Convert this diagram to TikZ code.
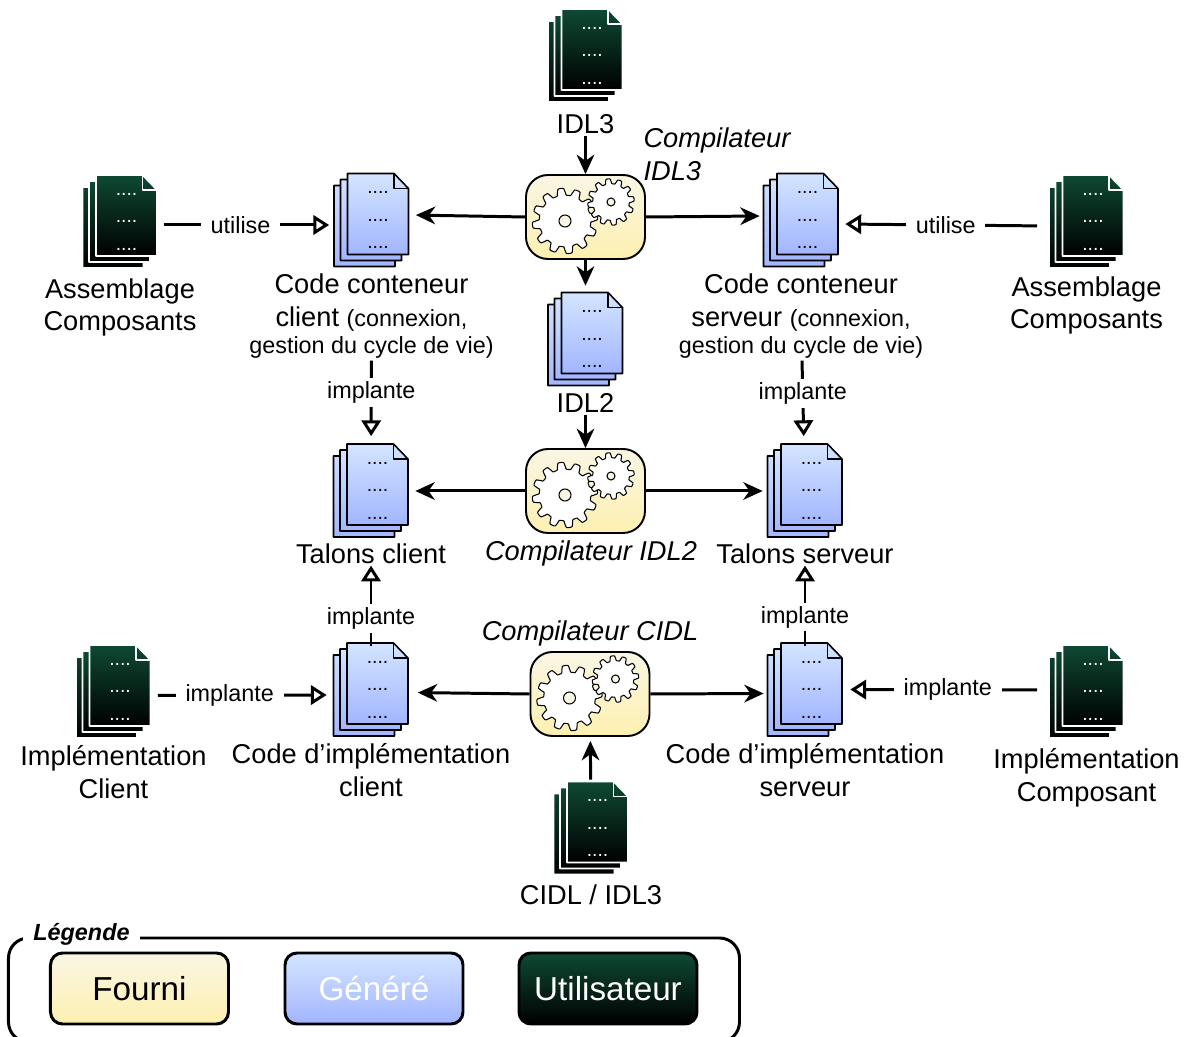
\documentclass[tikz,border=0pt]{standalone}
\usepackage{fontspec}
\setmainfont{Liberation Sans}
\usetikzlibrary{positioning}
\usetikzlibrary{arrows.meta}

\definecolor{fourniTop}{HTML}{FAF6E4}
\definecolor{fourniBot}{HTML}{FDF0B0}
\definecolor{generTop}{HTML}{D3E5FF}
\definecolor{generBot}{HTML}{A2B5FF}
\definecolor{userTop}{HTML}{0E4A33}
\definecolor{userBot}{HTML}{000000}

\newcommand{\docsheet}[5]{\shadedraw[top color=#3,bottom color=#4,draw=#5,line width=0.9pt,line join=round] (#1,#2) -- ++(0.93,0) -- ++(0.29,-0.3) -- ++(0,-1.32) -- ++(-1.22,0) -- cycle;}
\newcommand{\gearwheel}[5]{\draw[sharp corners,fill=white,line width=0.6pt,line join=round] plot[domain=0:360,samples=169,variable=\t] ({#1+(#3+#4*max(-1,min(1,2*sin(12*\t))))*cos(\t)},{#2+(#3+#4*max(-1,min(1,2*sin(12*\t))))*sin(\t)}) -- cycle;
	\draw[fill=fourniTop,line width=0.6pt] (#1,#2) circle (#5);}

\begin{document}
\begin{tikzpicture}
	[on grid,
	sheetstack/.style n args={4}{minimum width=1.56cm,minimum height=1.94cm,inner sep=0pt,
		path picture={
			\docsheet{-0.75}{0.70}{#1}{#2}{#3}
			\docsheet{-0.62}{0.82}{#1}{#2}{#3}
			\docsheet{-0.48}{0.94}{#1}{#2}{#3}
			\draw[#3,line width=0.9pt,line join=round] (0.45,0.94) -- (0.45,0.64) -- (0.74,0.64);
			\foreach \doty in {0.53,-0.02,-0.57}
				\node[text=#4,anchor=base,minimum width=0pt,minimum height=0pt,inner sep=0pt,path picture={},font=\fontsize{11}{11}\selectfont] at (0.13,\doty) {....};
			}},
	gendocs/.style={sheetstack={generTop}{generBot}{black}{black}},
	userdocs/.style={sheetstack={userTop}{userBot}{white}{white}},
	compilerbox/.style={draw,line width=1.1pt,rounded corners=0.44cm,top color=fourniTop,bottom color=fourniBot,minimum width=2.38cm,minimum height=1.68cm,inner sep=0pt,
		path picture={
			\gearwheel{-0.41}{-0.08}{0.585}{0.07}{0.12}
			\gearwheel{0.51}{0.30}{0.415}{0.05}{0.08}
			}},
	doclabel/.style={align=center,inner sep=1pt,font=\fontsize{15.5}{18.7}\selectfont},
	toollabel/.style={align=left,inner sep=1pt,font=\fontsize{15.5}{18.7}\selectfont\itshape},
	linklabel/.style={fill=white,inner xsep=5.5pt,inner ysep=2pt,font=\fontsize{13.3}{16}\selectfont},
	flowarrow/.style={line width=1.7pt,-{Stealth[length=11pt,width=10pt,inset=3.5pt]}},
	linkarrow/.style={line width=1.7pt,-{Triangle[open,length=9pt,width=11pt]}},
	keybox/.style={draw,line width=1.7pt,rounded corners=0.24cm,minimum width=3.56cm,minimum height=1.42cm,font=\fontsize{18.9}{22}\selectfont}
	]

	\useasboundingbox (-11.71,4.34) rectangle (12.07,-16.40);

	%Compilers and IDL files
	\node(CompA)[compilerbox]{};
	\node(IdlThree)[userdocs, above = 3.22cm of CompA]{};
	\node(IdlTwo)[gendocs, below = 2.45cm of CompA]{};
	\node(CompB)[compilerbox, below = 3.03cm of IdlTwo]{};
	\node(CompC)[compilerbox, below right = 4.06cm and 0.09cm of CompB]{};
	\node(CidlFile)[userdocs, below right = 2.69cm and 0.02cm of CompC]{};

	%Generated code
	\node(ContClient)[gendocs, below left = 0.07cm and 4.28cm of CompA]{};
	\node(ContServer)[gendocs, below right = 0.07cm and 4.31cm of CompA]{};
	\node(TalonClient)[gendocs, left = 4.29cm of CompB]{};
	\node(TalonServer)[gendocs, right = 4.39cm of CompB]{};
	\node(ImplClient)[gendocs, below = 3.98cm of TalonClient]{};
	\node(ImplServer)[gendocs, below = 3.98cm of TalonServer]{};

	%User files
	\node(AsmLeft)[userdocs, below left = 0.03cm and 5.03cm of ContClient]{};
	\node(AsmRight)[userdocs, below right = 0.03cm and 5.71cm of ContServer]{};
	\node(UserClient)[userdocs, below left = 0.04cm and 5.15cm of ImplClient]{};
	\node(UserServer)[userdocs, below right = 0.04cm and 5.63cm of ImplServer]{};

	%Texts
	\node(IdlThreeTxt)[doclabel, below = 1.36cm of IdlThree]{IDL3};
	\node(IdlTwoTxt)[doclabel, below = 1.27cm of IdlTwo]{IDL2};
	\node(CidlTxt)[doclabel, below = 1.33cm of CidlFile]{CIDL / IDL3};
	\node(CompATxt)[toollabel, above right = 1.26cm and 2.63cm of CompA]{Compilateur\\IDL3};
	\node(CompBTxt)[toollabel, below right = 1.25cm and 0.11cm of CompB]{Compilateur IDL2};
	\node(CompCTxt)[toollabel, above = 1.22cm of CompC]{Compilateur CIDL};
	\node(ContClientTxt)[doclabel, below = 1.91cm of ContClient]{Code conteneur\\client {\fontsize{13.3}{16}\selectfont(connexion,}\\[-3pt]{\fontsize{13.3}{16}\selectfont gestion du cycle de vie)}};
	\node(ContServerTxt)[doclabel, below = 1.91cm of ContServer]{Code conteneur\\serveur {\fontsize{13.3}{16}\selectfont(connexion,}\\[-3pt]{\fontsize{13.3}{16}\selectfont gestion du cycle de vie)}};
	\node(TalonClientTxt)[doclabel, below = 1.25cm of TalonClient]{Talons client};
	\node(TalonServerTxt)[doclabel, below = 1.25cm of TalonServer]{Talons serveur};
	\node(ImplClientTxt)[doclabel, below = 1.61cm of ImplClient]{Code d'implémentation\\client};
	\node(ImplServerTxt)[doclabel, below = 1.61cm of ImplServer]{Code d'implémentation\\serveur};
	\node(AsmLeftTxt)[doclabel, below = 1.71cm of AsmLeft]{Assemblage\\Composants};
	\node(AsmRightTxt)[doclabel, below = 1.67cm of AsmRight]{Assemblage\\Composants};
	\node(UserClientTxt)[doclabel, below = 1.61cm of UserClient]{Implémentation\\Client};
	\node(UserServerTxt)[doclabel, below = 1.71cm of UserServer]{Implémentation\\Composant};

	%Compiler flows
	\draw[flowarrow] (IdlThreeTxt) -- (CompA);
	\draw[flowarrow, shorten >=0.1cm] (CompA) -- (IdlTwo);
	\draw[flowarrow] (IdlTwoTxt) -- (CompB);
	\draw[flowarrow, shorten >=0.08cm] (CidlFile) -- (CompC);
	\draw[flowarrow, shorten >=0.1cm] (CompA.west) -- ([yshift=0.11cm]ContClient.east);
	\draw[flowarrow, shorten >=0.04cm] (CompA.east) -- ([yshift=0.09cm]ContServer.west);
	\draw[flowarrow, shorten >=0.1cm] (CompB.west) -- (TalonClient.east);
	\draw[flowarrow, shorten >=0.06cm] (CompB.east) -- (TalonServer.west);
	\draw[flowarrow, shorten >=0.15cm] (CompC.west) -- ([yshift=-0.05cm]ImplClient.east);
	\draw[flowarrow, shorten >=0.04cm] (CompC.east) -- ([yshift=-0.07cm]ImplServer.west);

	%Uses and implements
	\draw[linkarrow, shorten <=0.1cm, shorten >=0.06cm] ([yshift=-0.06cm]AsmLeft.east) -- node[linklabel, pos=0.47]{utilise} ([yshift=-0.09cm]ContClient.west);
	\draw[linkarrow, shorten <=0.2cm, shorten >=0.1cm] ([yshift=-0.08cm]AsmRight.west) -- node[linklabel, pos=0.49]{utilise} ([yshift=-0.07cm]ContServer.east);
	\draw[linkarrow, shorten >=0.12cm] (ContClientTxt) -- node[linklabel, pos=0.39]{implante} (TalonClient);
	\draw[linkarrow, shorten >=0.12cm] (ContServerTxt) -- node[linklabel, pos=0.4]{implante} (TalonServer);
	\draw[linkarrow, shorten <=-0.1cm] (ImplClient) -- node[linklabel, pos=0.3]{implante} (TalonClientTxt);
	\draw[linkarrow, shorten <=-0.1cm] (ImplServer) -- node[linklabel, pos=0.32]{implante} (TalonServerTxt);
	\draw[linkarrow, shorten <=0.1cm, shorten >=0.1cm] ([yshift=-0.07cm]UserClient.east) -- node[linklabel, pos=0.43]{implante} ([yshift=-0.1cm]ImplClient.west);
	\draw[linkarrow, shorten <=0.2cm, shorten >=0.12cm] ([yshift=0.04cm]UserServer.west) -- node[linklabel, pos=0.49]{implante} ([yshift=0.01cm]ImplServer.east);

	%Legend
	\node(KeyFourni)[keybox, top color=fourniTop, bottom color=fourniBot, below left = 3.2cm and 9.03cm of CidlFile]{Fourni};
	\node(KeyGenere)[keybox, top color=generTop, bottom color=generBot, text=white, right = 4.69cm of KeyFourni]{Généré};
	\node(KeyUser)[keybox, top color=userTop, bottom color=userBot, text=white, right = 4.68cm of KeyGenere]{Utilisateur};
	\node(KeyFrame)[draw, line width=1.7pt, rounded corners=0.4cm, minimum width=14.62cm, minimum height=2.08cm, below = 0.03cm of KeyGenere]{};
	\node(KeyTitle)[fill=white, inner xsep=6pt, inner ysep=3pt, font=\fontsize{13.3}{16}\selectfont\bfseries\itshape, above left = 1.12cm and 5.85cm of KeyFrame]{Légende};

\end{tikzpicture}
\end{document}
